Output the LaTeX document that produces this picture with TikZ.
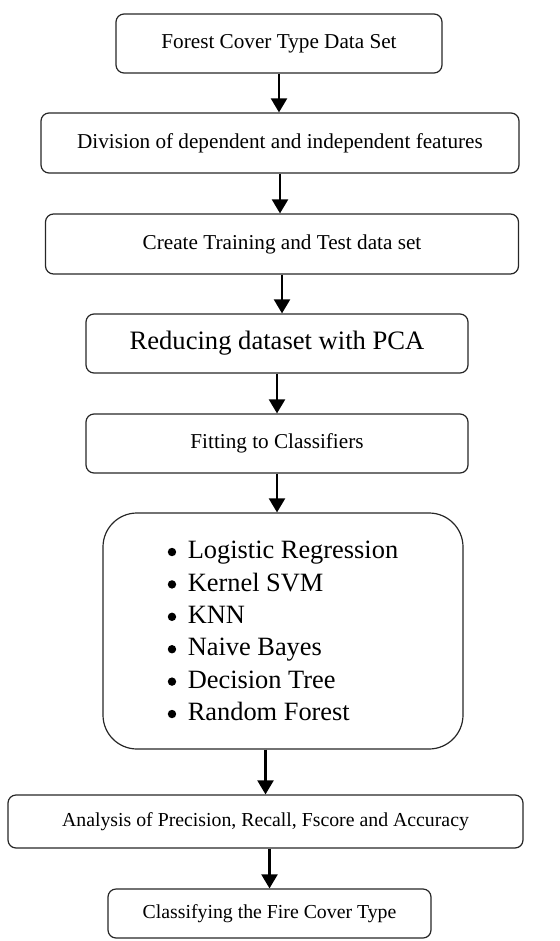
\documentclass[tikz,border=0pt]{standalone}
\usepackage{fontspec}
\setmainfont{Liberation Serif}
\usetikzlibrary{arrows.meta}
\newcommand{\itemdot}{\makebox[10pt][l]{\tikz[baseline=0pt]\fill (2pt,3.3pt) circle[radius=2.1pt];}}

\begin{document}
\begin{tikzpicture}[x=0.5pt,y=-0.5pt,
  card/.style={draw=black!85,line width=0.6pt,rounded corners=4pt,inner sep=0pt,
    align=center,font=\fontsize{10.6}{13}\selectfont},
  smallcard/.style={card,font=\fontsize{9.9}{12}\selectfont},
  bigcard/.style={card,font=\fontsize{13.3}{16}\selectfont},
  listcard/.style={card,rounded corners=17pt,align=left,font=\fontsize{13.2}{16.2}\selectfont},
  flow/.style={draw=black,line width=1.1pt,-{Triangle[length=7pt,width=8pt]}}]
\useasboundingbox (0,0) rectangle (560,941);
\node[card,minimum width=163pt,minimum height=29.5pt] (data) at (279,43.5) {Forest Cover Type Data Set};
\node[card,minimum width=239pt,minimum height=30pt] (split) at (280,143) {Division of dependent and independent features};
\node[card,minimum width=236.5pt,minimum height=30pt] (traintest) at (282,244) {Create Training and Test data set};
\node[bigcard,minimum width=191pt,minimum height=29.5pt] (pca) at (277,343.5) {Reducing dataset with PCA};
\node[card,minimum width=191pt,minimum height=29.5pt] (fit) at (277,443.5) {Fitting to Classifiers};
\node[listcard,minimum width=180pt,minimum height=118pt] (models) at (283,631)
  {\itemdot Logistic Regression\\ \itemdot Kernel SVM\\ \itemdot KNN\\
   \itemdot Naive Bayes\\ \itemdot Decision Tree\\ \itemdot Random Forest};
\node[smallcard,minimum width=257.5pt,minimum height=26.5pt] (metrics) at (265.5,821.5) {Analysis of Precision, Recall, Fscore and Accuracy};
\node[smallcard,minimum width=161.5pt,minimum height=24.5pt] (result) at (269.5,913.5) {Classifying the Fire Cover Type};
% top of the chain: arrows leave straight down from each box
\foreach \a/\b in {data/split,split/traintest,traintest/pca,pca/fit,fit/models}
  \draw[flow] (\a.south) -- (\a.south |- \b.north);
% bottom of the chain: arrows drop onto the centre of the next box
\foreach \a/\b in {models/metrics,metrics/result}
  \draw[flow] (\b.north |- \a.south) -- (\b.north);
\end{tikzpicture}
\end{document}
